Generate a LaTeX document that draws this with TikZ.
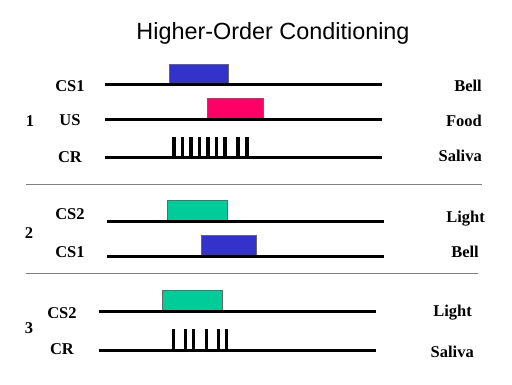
\documentclass[tikz,border=0pt]{standalone}
\usepackage{fontspec}
\setmainfont{Liberation Serif}
\newfontfamily\titlefont{Liberation Sans}
\definecolor{bellblue}{HTML}{3333CC}
\definecolor{foodpink}{HTML}{FF0066}
\definecolor{lightgreen}{HTML}{00CC99}
\tikzset{
  lbl/.style={font=\bfseries\fontsize{16.5}{19}\selectfont, inner sep=0pt},
  timeline/.style={line width=3pt},
  stim/.style={draw=black!60, line width=0.6pt},
  spike/.style={line width=3.8pt},
  sep/.style={draw=black!50, line width=1pt}
}
\begin{document}
\begin{tikzpicture}[x=1pt,y=-1pt]
    \useasboundingbox[fill=white] (0,0) rectangle (512,384);
    \node[font=\titlefont\fontsize{23.4}{28}\selectfont] (title) at (273,33) {Higher-Order Conditioning};
    % phase 1
    \draw[stim,fill=bellblue] (169,64) rectangle (228,84.5);
    \draw[stim,fill=foodpink] (207,98.5) rectangle (263,119.5);
    \draw[timeline] (105,84.5) -- (382,84.5);
    \draw[timeline] (105,119.5) -- (382,119.5);
    \draw[timeline] (105,157) -- (382,157);
    \foreach \x in {174,182.5,191,199.5,208,216.5,225,238,247}
        \draw[spike] (\x,137) -- (\x,157);
    \node[lbl] (cs1a) at (70,86) {CS1};
    \node[lbl] (usa) at (70,120) {US};
    \node[lbl] (cra) at (70,157) {CR};
    \node[lbl] (one) at (30,121) {1};
    \node[lbl,anchor=east] (bella) at (482,86) {Bell};
    \node[lbl,anchor=east] (fooda) at (482,121) {Food};
    \node[lbl,anchor=east] (salivaa) at (482,156) {Saliva};
    \draw[sep] (26,184) -- (482,184);
    % phase 2
    \draw[stim,fill=lightgreen] (167,200.5) rectangle (227,221.5);
    \draw[stim,fill=bellblue] (201,235) rectangle (256,256);
    \draw[timeline] (107,221.5) -- (384,221.5);
    \draw[timeline] (107,256) -- (384,256);
    \node[lbl] (cs2b) at (70,214) {CS2};
    \node[lbl] (cs1b) at (70,252) {CS1};
    \node[lbl] (two) at (29,233) {2};
    \node[lbl,anchor=east] (lightb) at (485,219) {Light};
    \node[lbl,anchor=east] (bellb) at (479,252) {Bell};
    \draw[sep] (26,273) -- (478,273);
    % phase 3
    \draw[stim,fill=lightgreen] (162,290.5) rectangle (222,311.5);
    \draw[timeline] (99,311.5) -- (376,311.5);
    \draw[timeline] (99,350) -- (376,350);
    \foreach \x in {173.5,185.5,193.5,206.5,218.5,226.5}
        \draw[spike] (\x,329) -- (\x,350);
    \node[lbl] (cs2c) at (62,313) {CS2};
    \node[lbl] (crc) at (62,349) {CR};
    \node[lbl] (three) at (29,328) {3};
    \node[lbl,anchor=east] (lightc) at (472,313) {Light};
    \node[lbl,anchor=east] (salivac) at (474,352) {Saliva};
\end{tikzpicture}
\end{document}
